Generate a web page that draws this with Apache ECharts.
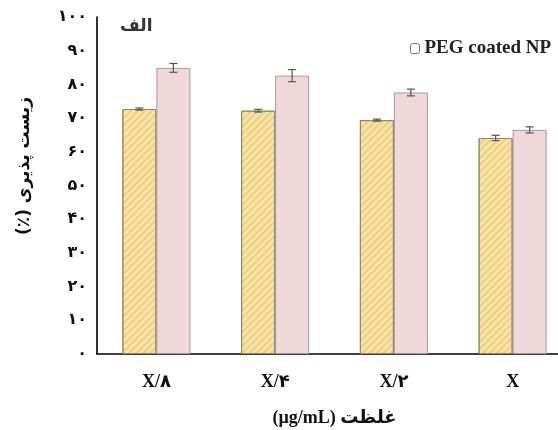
<!DOCTYPE html>
<html>
<head>
<meta charset="utf-8">
<script src="https://cdn.jsdelivr.net/npm/echarts@6/dist/echarts.min.js"></script>
<style>
  html, body { margin: 0; padding: 0; background: #fff; }
  #main { width: 558px; height: 430px; }
</style>
</head>
<body>
<div id="main"></div>
<script>
// غلظت ها
const categories = ['X/۸', 'X/۴', 'X/۲', 'X'];
// زیست پذیری (%)
const bareValues = [72.7, 72.2, 69.4, 64.1];
const bareErrors = [0.3, 0.4, 0.3, 0.8];
const pegValues = [84.9, 82.6, 77.6, 66.5];
const pegErrors = [1.3, 1.8, 1.0, 0.9];

const faDigits = '۰۱۲۳۴۵۶۷۸۹';
const toFa = n => String(n).replace(/\d/g, d => faDigits[d]);

const BAR_W = 34;
const fontFam = 'Liberation Serif, DejaVu Serif, DejaVu Sans, serif';

function errSeries(values, errors, offset) {
  return {
    type: 'custom',
    silent: true,
    z: 10,
    data: values.map((v, i) => [i, v, errors[i]]),
    renderItem: function (params, api) {
      const i = api.value(0), v = api.value(1), e = api.value(2);
      const top = api.coord([i, v + e]);
      const bot = api.coord([i, v - e]);
      const x = top[0] + offset;
      const st = { stroke: '#555', lineWidth: 1.2 };
      return {
        type: 'group',
        children: [
          { type: 'line', shape: { x1: x, y1: top[1], x2: x, y2: bot[1] }, style: st },
          { type: 'line', shape: { x1: x - 4, y1: top[1], x2: x + 4, y2: top[1] }, style: st },
          { type: 'line', shape: { x1: x - 4, y1: bot[1], x2: x + 4, y2: bot[1] }, style: st }
        ]
      };
    }
  };
}

const chart = echarts.init(document.getElementById('main'));
chart.setOption({
  backgroundColor: '#fff',
  animation: false,
  grid: { left: 97, top: 17, width: 475, height: 337, containLabel: false, outerBoundsMode: 'none' },
  legend: {
    data: ['PEG coated NP'],
    left: 405,
    top: 34,
    itemWidth: 9,
    itemHeight: 10,
    itemGap: 4,
    textStyle: { fontFamily: fontFam, fontWeight: 'bold', fontSize: 19, color: '#222' },
    itemStyle: { color: '#fff', borderColor: '#777', borderWidth: 1, decal: 'none' }
  },
  graphic: [
    {
      type: 'text', left: 120, top: 18,
      style: { text: 'الف', font: 'bold 17px DejaVu Sans', fill: '#333' }
    },
    {
      type: 'text', x: 25, y: 166, rotation: Math.PI / 2,
      style: {
        text: '(٪) زیست پذیری',
        font: 'bold 17px DejaVu Sans',
        fill: '#111', align: 'center', verticalAlign: 'middle'
      }
    }
  ],
  xAxis: {
    type: 'category',
    data: categories,
    name: '(µg/mL) غلظت',
    nameLocation: 'middle',
    nameGap: 55,
    nameTextStyle: { fontFamily: fontFam, fontWeight: 'bold', fontSize: 18, color: '#111' },
    axisLine: { lineStyle: { color: '#000', width: 1.6 } },
    axisTick: { show: false },
    axisLabel: { margin: 19, fontFamily: fontFam, fontWeight: 'bold', fontSize: 18, color: '#111' }
  },
  yAxis: {
    type: 'value',
    min: 0, max: 100, interval: 10,
    axisLine: { show: true, lineStyle: { color: '#000', width: 1.6 } },
    axisTick: { show: false },
    splitLine: { show: false },
    axisLabel: {
      margin: 10,
      fontFamily: 'DejaVu Sans',
      fontWeight: 'bold', fontSize: 16, color: '#111',
      formatter: v => toFa(v)
    }
  },
  series: [
    {
      name: 'Bare NP',
      type: 'bar',
      data: bareValues,
      barWidth: BAR_W,
      barGap: '0%',
      itemStyle: {
        color: '#FBE3A2',
        borderColor: '#8f8770',
        borderWidth: 1,
        decal: {
          symbol: 'rect',
          symbolSize: 1,
          color: 'rgba(205,165,90,0.35)',
          dashArrayX: [1, 0],
          dashArrayY: [1.2, 3],
          rotation: -Math.PI / 4
        }
      }
    },
    {
      name: 'PEG coated NP',
      type: 'bar',
      data: pegValues,
      barWidth: BAR_W,
      itemStyle: { color: '#F0D7D9', borderColor: '#a39b9c', borderWidth: 1 }
    },
    errSeries(bareValues, bareErrors, -BAR_W / 2),
    errSeries(pegValues, pegErrors, BAR_W / 2)
  ]
});
</script>
</body>
</html>
